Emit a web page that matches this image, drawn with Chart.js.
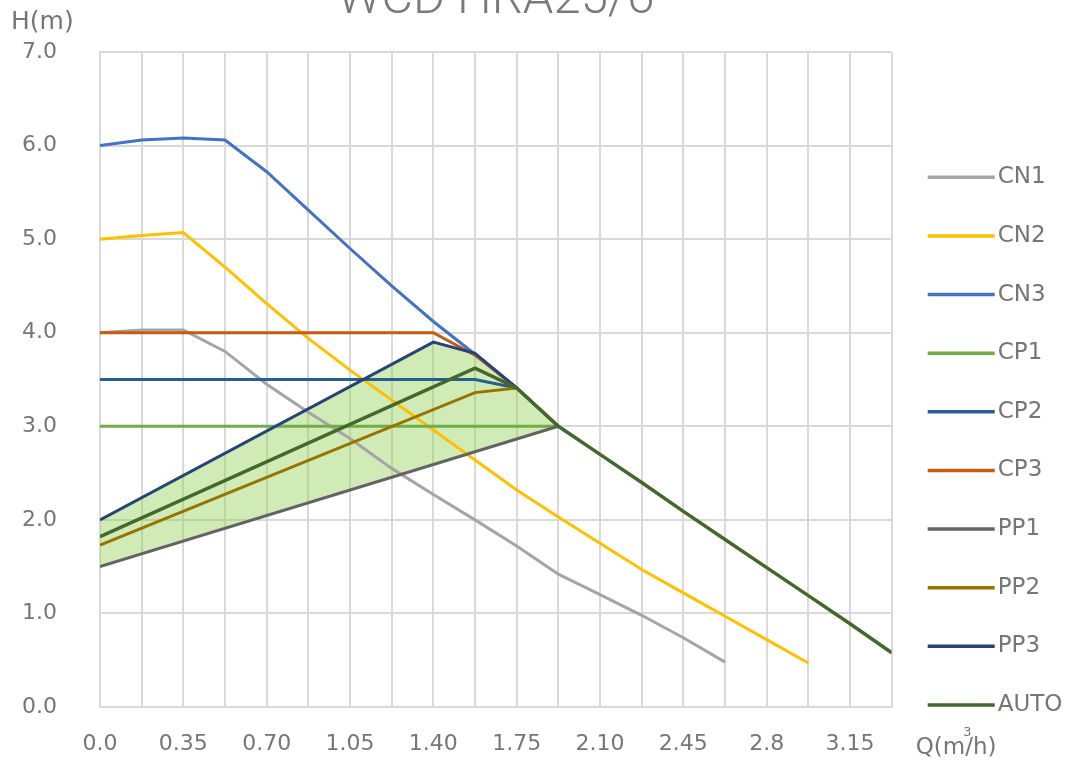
<!DOCTYPE html>
<html>
<head>
<meta charset="utf-8">
<title>WCD HRA25/6</title>
<script src="https://cdn.jsdelivr.net/npm/chart.js@4.4.1/dist/chart.umd.min.js"></script>
<style>
  html, body { margin: 0; padding: 0; background: #fff; }
  #wrap { position: relative; width: 1075px; height: 769px; overflow: hidden; }
</style>
</head>
<body>
<div id="wrap"><canvas id="pumpChart" width="1075" height="769"></canvas></div>
<script>
// flow Q (m3/h) and head H (m)
const cn1Q = [0, 0.175, 0.35, 0.525, 0.7, 0.875, 1.05, 1.225, 1.4, 1.575, 1.75, 1.925, 2.1, 2.275, 2.45, 2.625];
const cn1H = [4.0, 4.03, 4.03, 3.8, 3.45, 3.15, 2.87, 2.55, 2.27, 2.0, 1.72, 1.42, 1.2, 0.98, 0.74, 0.48];

const cn2Q = [0, 0.175, 0.35, 0.525, 0.7, 0.875, 1.05, 1.225, 1.4, 1.575, 1.75, 1.925, 2.1, 2.275, 2.45, 2.625, 2.8, 2.975];
const cn2H = [5.0, 5.04, 5.07, 4.7, 4.31, 3.94, 3.6, 3.28, 2.96, 2.64, 2.32, 2.03, 1.75, 1.47, 1.22, 0.97, 0.72, 0.47];

const cn3Q = [0, 0.175, 0.35, 0.525, 0.7, 0.875, 1.05, 1.225, 1.4, 1.575, 1.75];
const cn3H = [6.0, 6.06, 6.08, 6.06, 5.72, 5.31, 4.9, 4.5, 4.12, 3.77, 3.41];

const cp1Q = [0, 1.925];
const cp1H = [3.0, 3.0];

const cp2Q = [0, 1.575, 1.75];
const cp2H = [3.5, 3.5, 3.41];

const cp3Q = [0, 1.4, 1.575, 1.75];
const cp3H = [4.0, 4.0, 3.76, 3.41];

const pp1Q = [0, 1.925];
const pp1H = [1.5, 3.0];

const pp2Q = [0, 1.575, 1.75];
const pp2H = [1.73, 3.36, 3.41];

const pp3Q = [0, 1.4, 1.575, 1.75, 1.925];
const pp3H = [2.0, 3.9, 3.78, 3.41, 3.0];

const autoQ = [0, 1.575, 1.75, 1.925, 2.1, 2.275, 2.45, 2.625, 2.8, 2.975, 3.15, 3.325];
const autoH = [1.82, 3.62, 3.41, 3.0, 2.7, 2.4, 2.09, 1.79, 1.49, 1.19, 0.89, 0.58];

const seriesNames = ['CN1', 'CN2', 'CN3', 'CP1', 'CP2', 'CP3', 'PP1', 'PP2', 'PP3', 'AUTO'];
const xTickLabels = ['0.0', '0.35', '0.70', '1.05', '1.40', '1.75', '2.10', '2.45', '2.8', '3.15'];
const chartTitle = 'WCD HRA25/6';
const yUnit = 'H(m)';

const colors = ['#a5a5a5', '#ffc000', '#4472c4', '#70ad47', '#255e91', '#c55a11', '#636363', '#997300', '#264478', '#43682b'];
const textColor = '#767676';
const gridColor = '#d9d9d9';
const areaColor = 'rgba(146, 208, 80, 0.42)';

function pts(q, h) {
  return q.map((x, i) => ({ x: x, y: h[i] }));
}

const curves = [
  pts(cn1Q, cn1H), pts(cn2Q, cn2H), pts(cn3Q, cn3H),
  pts(cp1Q, cp1H), pts(cp2Q, cp2H), pts(cp3Q, cp3H),
  pts(pp1Q, pp1H), pts(pp2Q, pp2H), pts(pp3Q, pp3H),
  pts(autoQ, autoH)
];

const datasets = curves.map((data, i) => ({
  label: seriesNames[i],
  data: data,
  borderColor: colors[i],
  backgroundColor: colors[i],
  borderWidth: seriesNames[i] === 'AUTO' ? 3.5 : 3,
  pointRadius: 0,
  tension: 0,
  fill: false,
  order: seriesNames.length - 1 - i   // later series on top
}));

// green operating zone between PP3 and PP1
datasets[8].fill = { target: 6, above: areaColor, below: areaColor };

// legend and axis unit texts
const sideText = {
  id: 'sideText',
  afterDraw(chart) {
    const ctx = chart.ctx;
    const area = chart.chartArea;
    ctx.save();
    ctx.fillStyle = textColor;
    ctx.textBaseline = 'middle';
    ctx.textAlign = 'left';
    ctx.font = '25px "DejaVu Sans"';
    ctx.fillText(yUnit, 11, 22);

    // Q(m3/h) with the 3 raised above the slash
    const qx = area.right + 24;
    const qy = 748;
    const part1 = 'Q(m';
    ctx.font = '23px "DejaVu Sans"';
    ctx.fillText(part1, qx, qy);
    const w1 = ctx.measureText(part1).width;
    ctx.fillText('/h)', qx + w1, qy);
    ctx.font = '13px "DejaVu Sans"';
    ctx.fillText('3', qx + w1 - 2, qy - 15);

    ctx.font = '23px "DejaVu Sans"';
    chart.data.datasets.forEach((ds, i) => {
      const y = 177.3 + i * 58.63;
      ctx.strokeStyle = ds.borderColor;
      ctx.lineWidth = 3.5;
      ctx.beginPath();
      ctx.moveTo(area.right + 36, y);
      ctx.lineTo(area.right + 103, y);
      ctx.stroke();
      ctx.fillText(ds.label, area.right + 106, y);
    });
    ctx.restore();
  }
};

new Chart(document.getElementById('pumpChart'), {
  type: 'line',
  data: { datasets: datasets },
  options: {
    responsive: false,
    animation: false,
    layout: { padding: { left: 22, right: 183.3, top: 0, bottom: 0 } },
    plugins: {
      legend: { display: false },
      tooltip: { enabled: false },
      filler: { drawTime: 'beforeDatasetsDraw' },
      title: {
        display: true,
        text: chartTitle,
        fullSize: false,
        color: '#7a7a7a',
        font: { family: 'Roboto', size: 49, weight: '300', lineHeight: 1.2 },
        padding: { top: -29, bottom: 22.2 }
      }
    },
    scales: {
      x: {
        type: 'linear',
        min: 0,
        max: 3.325,
        afterFit(scale) { scale.height = 62; },
        grid: { color: gridColor, lineWidth: 2, drawTicks: false },
        border: { color: gridColor, width: 2 },
        ticks: {
          stepSize: 0.175,
          autoSkip: false,
          maxRotation: 0,
          padding: 24,
          color: textColor,
          font: { family: 'DejaVu Sans', size: 22 },
          callback: (value, index) => index % 2 === 0 ? (xTickLabels[index / 2] || '') : ''
        }
      },
      y: {
        min: 0,
        max: 7,
        afterFit(scale) { scale.width = 78; },
        grid: { color: gridColor, lineWidth: 2, drawTicks: false },
        border: { color: gridColor, width: 2 },
        ticks: {
          stepSize: 1,
          padding: 4,
          crossAlign: 'far',
          color: textColor,
          font: { family: 'DejaVu Sans', size: 22 },
          callback: (value) => value.toFixed(1)
        }
      }
    }
  },
  plugins: [sideText]
});
</script>
</body>
</html>
